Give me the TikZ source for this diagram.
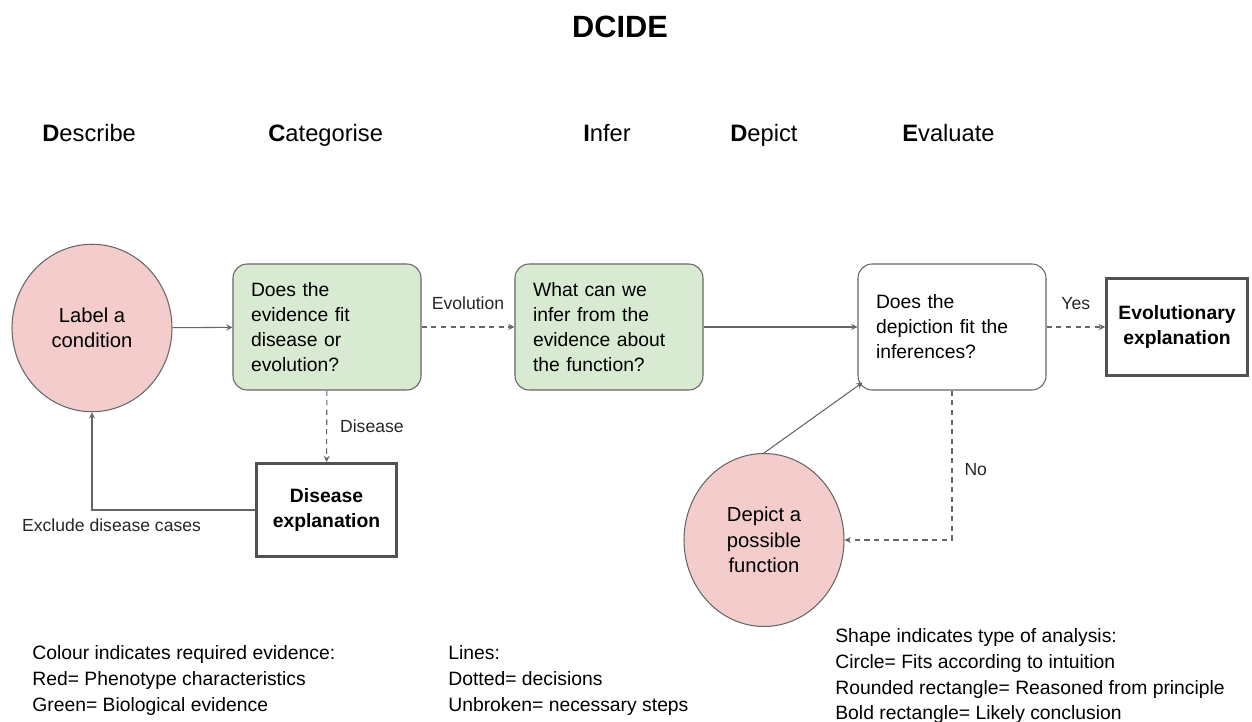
\documentclass[tikz,border=0pt]{standalone}
\usepackage{fontspec}
\setmainfont{Liberation Sans}
\usepackage{tikz}
\usetikzlibrary{shapes.geometric, arrows, positioning, calc}
\definecolor{phenored}{RGB}{244, 204, 204}
\definecolor{biogreen}{RGB}{217, 234, 211}
\definecolor{linegray}{RGB}{102, 102, 102}

\begin{document}
\begin{tikzpicture}[
    x=0.02cm, y=-0.02cm,
    circ/.style={ellipse, draw=linegray, line width=0.6pt, fill=phenored, minimum width=3.2cm, minimum height=3.35cm, align=center, inner sep=0pt, font=\fontsize{11.5}{14.5}\selectfont},
    box/.style={rectangle, draw=linegray, line width=0.6pt, rounded corners=8pt, minimum width=3.76cm, minimum height=2.52cm, text width=3.04cm, inner xsep=0.36cm, align=left, font=\fontsize{11}{14.2}\selectfont},
    concl/.style={rectangle, draw=linegray!80!black, line width=1.7pt, align=center, font=\bfseries\fontsize{11}{14.2}\selectfont},
    arrow/.style={->, >=stealth, draw=linegray, line width=0.6pt},
    decision/.style={arrow, dash pattern=on 3pt off 2.5pt},
    lbl/.style={font=\fontsize{10}{12}\selectfont, text=black!85},
    heading/.style={anchor=base west, inner sep=0pt, font=\fontsize{13.5}{16}\selectfont},
    legend/.style={anchor=north west, inner sep=0pt, align=left, font=\fontsize{11}{14.7}\selectfont}
]
    \useasboundingbox (0, 0) rectangle (1252, 722);

    % Title and stages
    \node[anchor=base, font=\bfseries\fontsize{17.5}{20}\selectfont] (title) at (620, 38) {DCIDE};
    \node[heading] (hdescribe) at (42, 142) {\textbf{D}escribe};
    \node[heading] (hcategorise) at (268, 142) {\textbf{C}ategorise};
    \node[heading] (hinfer) at (583, 142) {\textbf{I}nfer};
    \node[heading] (hdepict) at (730, 142) {\textbf{D}epict};
    \node[heading] (hevaluate) at (902, 142) {\textbf{E}valuate};

    % Flow
    \node[circ] (label) at (92, 328) {Label a\\condition};
    \node[box, fill=biogreen] (fit) at (327, 327) {Does the\\evidence fit\\disease or\\evolution?};
    \node[box, fill=biogreen] (infer) at (609, 327) {What can we\\infer from the\\evidence about\\the function?};
    \node[box, fill=white] (check) at (952, 327) {Does the\\depiction fit the\\inferences?};
    \node[concl, minimum width=2.82cm, minimum height=1.94cm] (evo) at (1177, 327) {Evolutionary\\explanation};
    \node[concl, minimum width=2.8cm, minimum height=1.86cm] (disease) at (326.5, 510) {Disease\\explanation};
    \node[circ, minimum height=3.46cm] (depict) at (764, 540) {Depict a\\possible\\function};

    \draw[arrow] (label) -- (fit);
    \draw[decision] (fit) -- node[lbl, above=6pt] (evollbl) {Evolution} (infer);
    \draw[arrow] (infer) -- (check);
    \draw[decision] (check) -- node[lbl, above=6pt] (yeslbl) {Yes} (evo);
    \draw[decision] (fit) -- node[lbl, right=4pt] (dislbl) {Disease} (disease);
    \draw[arrow] (disease.west) -| node[lbl, pos=0.44, below=1.5pt] (excllbl) {Exclude disease cases} (label.south);
    \draw[decision] (check.south) |- node[lbl, pos=0.265, right=3.5pt] (nolbl) {No} (depict.east);
    \draw[arrow] (depict.north) -- ([shift={(0.1cm,0.16cm)}]check.south west);

    % Legend
    \node[legend] (legcolour) at (32, 645) {Colour indicates required evidence:\\Red= Phenotype characteristics\\Green= Biological evidence};
    \node[legend] (leglines) at (448, 645) {Lines:\\Dotted= decisions\\Unbroken= necessary steps};
    \node[legend] (legshape) at (835, 628) {Shape indicates type of analysis:\\Circle= Fits according to intuition\\Rounded rectangle= Reasoned from principle\\Bold rectangle= Likely conclusion};
\end{tikzpicture}
\end{document}
